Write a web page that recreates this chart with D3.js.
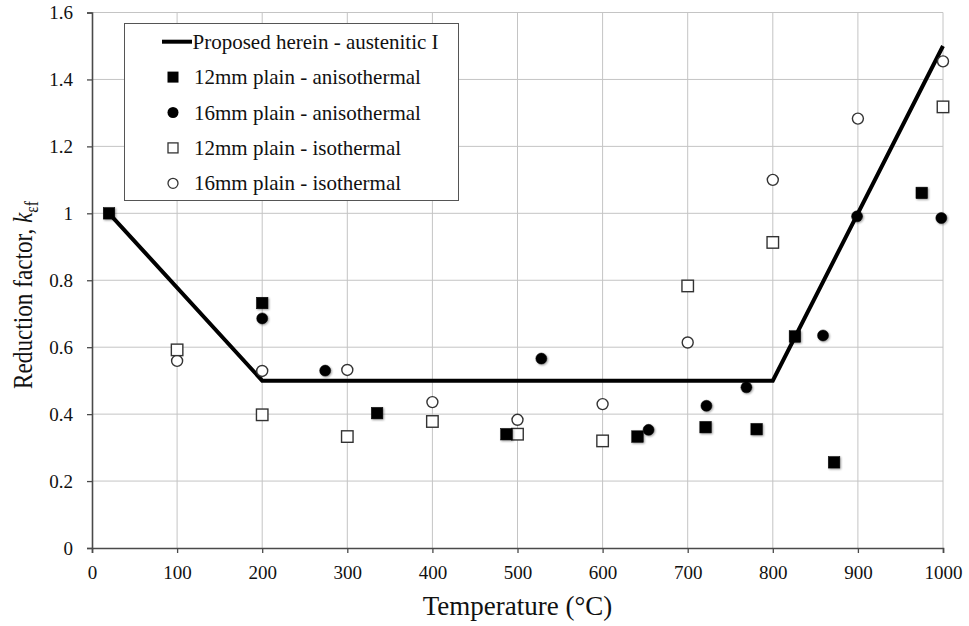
<!DOCTYPE html>
<html>
<head>
<meta charset="utf-8">
<script src="https://cdn.jsdelivr.net/npm/d3@7"></script>
<style>
  html, body { margin: 0; padding: 0; background: #fff; }
  svg { display: block; }
  svg text { font-family: "Liberation Serif", "Times New Roman", serif; }
</style>
</head>
<body>
<svg id="chart" width="969" height="626"></svg>
<script>
// Temperature (°C) and reduction factor k_εf for each test series
const proposedCurve = [[20, 1.0], [200, 0.5], [800, 0.5], [1000, 1.5]];

const plain12Aniso = [[20, 1.0], [200, 0.732], [335, 0.403], [487, 0.34], [641, 0.333],
  [721, 0.361], [781, 0.355], [826, 0.632], [872, 0.256], [975, 1.061]];

const plain16Aniso = [[200, 0.686], [274, 0.530], [528, 0.566], [654, 0.353], [722, 0.425],
  [769, 0.48], [859, 0.635], [899, 0.991], [998, 0.986]];

const plain12Iso = [[100, 0.592], [200, 0.398], [300, 0.333], [400, 0.378], [500, 0.34],
  [600, 0.32], [700, 0.783], [800, 0.913], [1000, 1.318]];

const plain16Iso = [[100, 0.559], [200, 0.529], [300, 0.532], [400, 0.436], [500, 0.383],
  [600, 0.43], [700, 0.614], [800, 1.10], [900, 1.283], [1000, 1.454]];

const xTicks = [0, 100, 200, 300, 400, 500, 600, 700, 800, 900, 1000];
const yTicks = [0, 0.2, 0.4, 0.6, 0.8, 1, 1.2, 1.4, 1.6];

const legendLabels = [
  "Proposed herein - austenitic I",
  "12mm plain - anisothermal",
  "16mm plain - anisothermal",
  "12mm plain - isothermal",
  "16mm plain - isothermal"
];

const svg = d3.select("#chart");
const margin = { left: 92, right: 26, top: 12.5, bottom: 78 };
const W = 969, H = 626;

const x = d3.scaleLinear().domain([0, 1000]).range([margin.left, W - margin.right]);
const y = d3.scaleLinear().domain([0, 1.6]).range([H - margin.bottom, margin.top]);

// soft shadow under the filled markers
const defs = svg.append("defs");
const f = defs.append("filter").attr("id", "soft").attr("x", "-50%").attr("y", "-50%")
  .attr("width", "200%").attr("height", "200%");
f.append("feGaussianBlur").attr("in", "SourceAlpha").attr("stdDeviation", 1.2).attr("result", "b");
f.append("feOffset").attr("in", "b").attr("dx", 1).attr("dy", 1).attr("result", "o");
f.append("feComponentTransfer").attr("in", "o").attr("result", "s")
  .append("feFuncA").attr("type", "linear").attr("slope", 0.4);
const fm = f.append("feMerge");
fm.append("feMergeNode").attr("in", "s");
fm.append("feMergeNode").attr("in", "SourceGraphic");

// grid
const grid = svg.append("g");
grid.selectAll("line.gx").data(xTicks.filter(d => d > 0)).join("line")
  .attr("x1", d => x(d)).attr("x2", d => x(d))
  .attr("y1", y(0)).attr("y2", y(1.6))
  .attr("stroke", "#c4c4c4").attr("stroke-width", 1);
grid.selectAll("line.gy").data(yTicks.filter(d => d > 0)).join("line")
  .attr("x1", x(0)).attr("x2", x(1000))
  .attr("y1", d => y(d)).attr("y2", d => y(d))
  .attr("stroke", "#c4c4c4").attr("stroke-width", 1);

// axes
const xAxis = svg.append("g").attr("transform", `translate(0,${y(0)})`)
  .call(d3.axisBottom(x).tickValues(xTicks).tickSize(5).tickPadding(13).tickFormat(d3.format("d")));
const yAxis = svg.append("g").attr("transform", `translate(${x(0)},0)`)
  .call(d3.axisLeft(y).tickValues(yTicks).tickSize(5).tickPadding(14)
    .tickFormat(d => d === 0 || d === 1 ? String(d) : d3.format(".1f")(d)));
[xAxis, yAxis].forEach(a => {
  a.attr("font-family", null);
  a.select(".domain").attr("stroke", "#4a4a4a").attr("stroke-width", 1.6);
  a.selectAll(".tick line").attr("stroke", "#4a4a4a").attr("stroke-width", 1.3);
  a.selectAll("text").style("font-family", "'Liberation Serif', serif").attr("font-size", 19).attr("fill", "#111");
});

// axis titles
svg.append("text").attr("x", x(500)).attr("y", 615).attr("text-anchor", "middle")
  .attr("font-size", 27).attr("fill", "#111").text("Temperature (°C)");
const yl = svg.append("text")
  .attr("transform", `translate(32,295) rotate(-90) scale(0.86,1)`)
  .attr("text-anchor", "middle").attr("font-size", 27).attr("fill", "#111");
yl.append("tspan").text("Reduction factor, ");
yl.append("tspan").attr("font-style", "italic").text("k");
yl.append("tspan").attr("font-size", 18).attr("dy", 6).text("εf");

// proposed curve
svg.append("path").datum(proposedCurve)
  .attr("d", d3.line().x(d => x(d[0])).y(d => y(d[1])))
  .attr("fill", "none").attr("stroke", "#000").attr("stroke-width", 4)
  .attr("stroke-linejoin", "miter");

const S = 11.5; // marker size
function squares(data, filled) {
  svg.append("g").selectAll("rect").data(data).join("rect")
    .attr("x", d => x(d[0]) - S / 2).attr("y", d => y(d[1]) - S / 2)
    .attr("width", S).attr("height", S)
    .attr("fill", filled ? "#000" : "#fff")
    .attr("stroke", filled ? "#000" : "#333").attr("stroke-width", filled ? 0.5 : 1.4)
    .attr("filter", filled ? "url(#soft)" : null);
}
function circles(data, filled) {
  svg.append("g").selectAll("circle").data(data).join("circle")
    .attr("cx", d => x(d[0])).attr("cy", d => y(d[1])).attr("r", 5.5)
    .attr("fill", filled ? "#000" : "#fff")
    .attr("stroke", filled ? "#000" : "#333").attr("stroke-width", filled ? 0.5 : 1.4)
    .attr("filter", filled ? "url(#soft)" : null);
}
circles(plain16Iso, false);
squares(plain12Iso, false);
circles(plain16Aniso, true);
squares(plain12Aniso, true);

// legend
const lg = svg.append("g");
lg.append("rect").attr("x", 124.5).attr("y", 23.5).attr("width", 334).attr("height", 177)
  .attr("fill", "#fff").attr("stroke", "#555").attr("stroke-width", 1);
const rowY = i => 41.7 + i * 35.4;
lg.append("line").attr("x1", 162).attr("x2", 192).attr("y1", rowY(0)).attr("y2", rowY(0))
  .attr("stroke", "#000").attr("stroke-width", 4);
const mk = 11;
lg.append("rect").attr("x", 173 - mk / 2).attr("y", rowY(1) - mk / 2).attr("width", mk).attr("height", mk).attr("fill", "#000");
lg.append("circle").attr("cx", 173).attr("cy", rowY(2)).attr("r", mk / 2).attr("fill", "#000");
lg.append("rect").attr("x", 173 - mk / 2 + 0.5).attr("y", rowY(3) - mk / 2 + 0.5).attr("width", mk - 1).attr("height", mk - 1)
  .attr("fill", "#fff").attr("stroke", "#333").attr("stroke-width", 1.3);
lg.append("circle").attr("cx", 173).attr("cy", rowY(4)).attr("r", mk / 2 - 0.5)
  .attr("fill", "#fff").attr("stroke", "#333").attr("stroke-width", 1.3);
lg.selectAll("text").data(legendLabels).join("text")
  .attr("x", (d, i) => i === 0 ? 192.5 : 194).attr("y", (d, i) => rowY(i) + 7)
  .attr("font-size", 21).attr("fill", "#111").text(d => d);
</script>
</body>
</html>
